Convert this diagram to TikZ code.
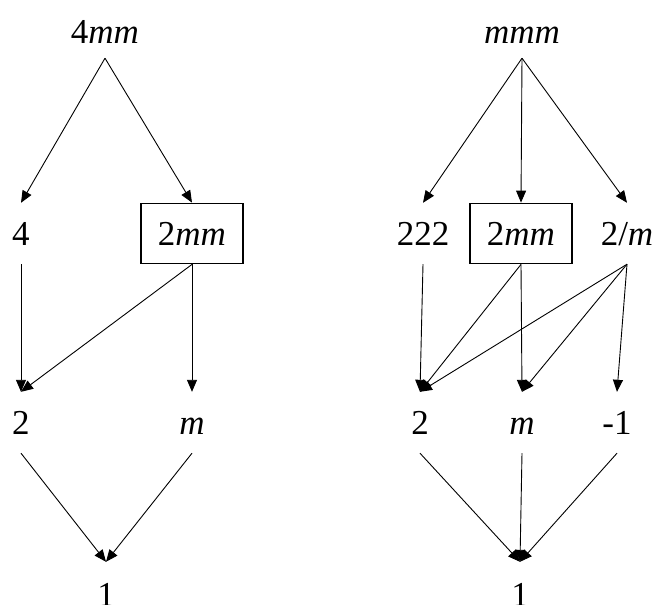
\documentclass[tikz,border=0pt]{standalone}
\usepackage{fontspec}
\setmainfont{Liberation Serif}
\usetikzlibrary{arrows.meta}
\begin{document}
\begin{tikzpicture}[x=1pt,y=-1pt,
  lbl/.style={inner sep=0pt,minimum height=61pt,text height=24pt,text depth=0pt,
    font=\fontsize{35}{40}\selectfont},
  toplbl/.style={lbl,minimum height=54pt},
  botlbl/.style={lbl,minimum height=64pt},
  boxlbl/.style={lbl,draw,line width=1.8pt,minimum width=102pt,minimum height=60pt},
  edge/.style={line width=0.9pt,-{Triangle[length=12pt,width=10pt]}}]
\useasboundingbox (0,0) rectangle (657,605);
% left
\node[toplbl] (t1) at (105,31) {4\textit{mm}};
\node[lbl] (a1) at (21,233.5) {4};
\node[boxlbl] (b1) at (192,233.5) {2\textit{mm}};
\node[lbl] (c1) at (21,422.5) {2};
\node[lbl] (d1) at (192,422.5) {\textit{m}};
\node[botlbl] (e1) at (106,594) {1};
% right
\node[toplbl] (t2) at (522,31) {\textit{mmm}};
\node[lbl] (a2) at (423,233.5) {222};
\node[boxlbl] (b2) at (521,233.5) {2\textit{mm}};
\node[lbl] (f2) at (627,233.5) {2/\textit{m}};
\node[lbl] (c2) at (420,422.5) {2};
\node[lbl] (d2) at (522,422.5) {\textit{m}};
\node[lbl] (g2) at (617,422.5) {-1};
\node[botlbl] (e2) at (520,594) {1};
% left edges
\draw[edge] (t1.south) -- (a1.north);
\draw[edge] (t1.south) -- (b1.north);
\draw[edge] (a1.south) -- (c1.north);
\draw[edge] (b1.south) -- (c1.north);
\draw[edge] (b1.south) -- (d1.north);
\draw[edge] (c1.south) -- (e1.north);
\draw[edge] (d1.south) -- (e1.north);
% right edges
\draw[edge] (t2.south) -- (a2.north);
\draw[edge] (t2.south) -- (b2.north);
\draw[edge] (t2.south) -- (f2.north);
\draw[edge] (a2.south) -- (c2.north);
\draw[edge] (b2.south) -- (c2.north);
\draw[edge] (b2.south) -- (d2.north);
\draw[edge] (f2.south) -- (c2.north);
\draw[edge] (f2.south) -- (d2.north);
\draw[edge] (f2.south) -- (g2.north);
\draw[edge] (c2.south) -- (e2.north);
\draw[edge] (d2.south) -- (e2.north);
\draw[edge] (g2.south) -- (e2.north);
\end{tikzpicture}
\end{document}
